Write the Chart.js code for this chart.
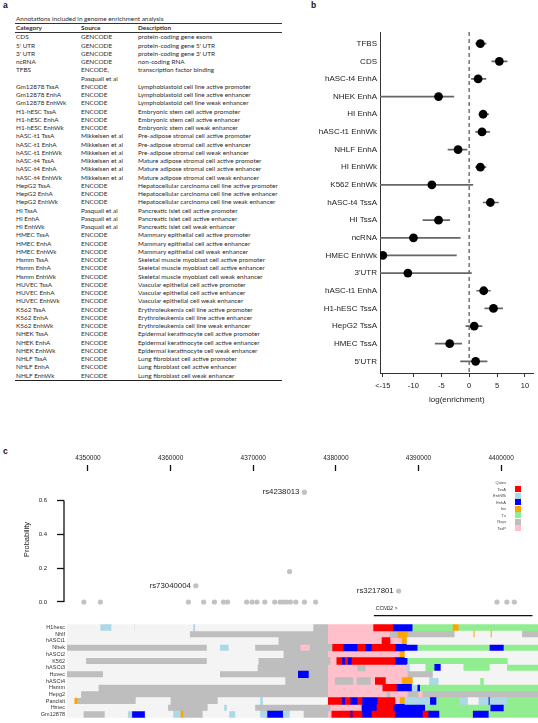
<!DOCTYPE html>
<html>
<head>
<meta charset="utf-8">
<script src="https://cdn.jsdelivr.net/npm/chart.js@4.4.1/dist/chart.umd.min.js"></script>
<style>
  html, body { margin: 0; padding: 0; background: #fff; }
  body { width: 538px; height: 723px; position: relative; overflow: hidden; font-family: "Liberation Sans", Arial, sans-serif; }
  canvas { position: absolute; }
  .panel-label { position: absolute; font-weight: bold; font-size: 8.5px; color: #111; }
  #tbl { position: absolute; left: 15px; top: 14px; width: 267px; font-family: Lato, "Open Sans", sans-serif; font-size: 6.4px; color: #2b2b2b; }
  #tbl .title { height: 9px; line-height: 9px; padding-left: 1px; border-bottom: 0.8px solid #333; }
  #tbl .grid { display: grid; grid-template-columns: 65px 57px auto; }
  #tbl .grid div { line-height: 8.25px; white-space: nowrap; padding-left: 1px; }
  #tbl .head { border-bottom: 0.8px solid #333; font-weight: bold; }
  #tbl .body { border-bottom: 1.2px solid #222; }
  #states { position: absolute; left: 470px; top: 479.5px; font-size: 4px; color: #444; }
  #states .row { height: 6.5px; display: flex; align-items: center; }
  #states .lab { width: 36px; text-align: right; }
  #states .sw { width: 6px; height: 6px; margin-left: 9px; }
</style>
</head>
<body>
<div class="panel-label" style="left:3px;top:0px;">a</div>
<div class="panel-label" style="left:311px;top:0px;">b</div>
<div class="panel-label" style="left:3px;top:446px;">c</div>

<div id="tbl">
  <div class="title">Annotations included in genome enrichment analysis</div>
  <div class="grid head"><div>Category</div><div>Source</div><div>Description</div></div>
  <div class="grid body" id="tblBody"></div>
</div>

<canvas id="chartB" width="268" height="410" style="left:270px;top:0px;"></canvas>
<canvas id="chartP" width="538" height="182" style="left:0px;top:440px;"></canvas>
<canvas id="chartH" width="538" height="104" style="left:0px;top:619px;"></canvas>
<div id="states"></div>

<script>
// ---------- panel a: annotation table ----------
var BASE_CATS = ['CDS', "5' UTR", "3' UTR", 'ncRNA', 'TFBS'];
var BASE_SRC = ['GENCODE', 'GENCODE', 'GENCODE', 'GENCODE', 'ENCODE,<br>Pasquali et al'];
var BASE_DESC = ['protein-coding gene exons', "protein-coding gene 5' UTR", "protein-coding gene 3' UTR",
  'non-coding RNA', 'transcription factor binding'];

var CELL_NAMES = ['Gm12878', 'H1-hESC', 'hASC-t1', 'hASC-t4', 'HepG2', 'HI', 'HMEC', 'Hsmm', 'HUVEC', 'K562', 'NHEK', 'NHLF'];
var CELL_SRC = ['ENCODE', 'ENCODE', 'Mikkelsen et al', 'Mikkelsen et al', 'ENCODE', 'Pasquali et al',
  'ENCODE', 'ENCODE', 'ENCODE', 'ENCODE', 'ENCODE', 'ENCODE'];
var CELL_DESC = ['Lymphoblastoid cell line', 'Embryonic stem cell', 'Pre-adipose stromal cell',
  'Mature adipose stromal cell', 'Hepatocellular carcinoma cell line', 'Pancreatic islet cell',
  'Mammary epithelial cell', 'Skeletal muscle myoblast cell', 'Vascular epithelial cell',
  'Erythroleukemia cell line', 'Epidermal keratinocyte cell', 'Lung fibroblast cell'];
var MARKS = ['TssA', 'EnhA', 'EnhWk'];
var MARK_DESC = ['active promoter', 'active enhancer', 'weak enhancer'];

function buildTable() {
    var html = '';
    BASE_CATS.forEach(function(c, i) {
        html += '<div>' + c + '</div><div>' + BASE_SRC[i] + '</div><div>' + BASE_DESC[i] + '</div>';
    });
    CELL_NAMES.forEach(function(cell, i) {
        MARKS.forEach(function(m, j) {
            html += '<div>' + cell + ' ' + m + '</div><div>' + CELL_SRC[i] + '</div><div>' +
                CELL_DESC[i] + ' ' + MARK_DESC[j] + '</div>';
        });
    });
    document.getElementById('tblBody').innerHTML = html;
}
buildTable();

// ---------- panel b: enrichment forest plot ----------
var B_LABELS = ['TFBS', 'CDS', 'hASC-t4 EnhA', 'NHEK EnhA', 'HI EnhA', 'hASC-t1 EnhWk', 'NHLF EnhA', 'HI EnhWk',
  'K562 EnhWk', 'hASC-t4 TssA', 'HI TssA', 'ncRNA', 'HMEC EnhWk', "3'UTR", 'hASC-t1 EnhA', 'H1-hESC TssA',
  'HepG2 TssA', 'HMEC TssA', "5'UTR"];
var B_EST = [2.0, 5.4, 1.6, -5.5, 2.5, 2.3, -2.0, 2.0, -6.7, 3.8, -5.5, -10.0, -15.5, -11.0, 2.6, 4.35, 0.9, -3.5, 1.15];
var B_LO = [1.15, 4.05, 0.4, -16, 1.75, 1.15, -3.8, 1.15, -16, 2.5, -8.3, -16, -16, -16, 1.35, 2.8, -0.6, -6.1, -1.55];
var B_HI = [3.05, 6.8, 3.0, -2.75, 3.5, 3.65, -0.4, 3.0, 0.65, 5.25, -3.5, -1.6, -2.3, 0.4, 3.8, 6.0, 2.3, -1.35, 3.2];
var B_TICKS = [-15.5, -10, -5, 0, 5, 10];
var B_TICK_TEXT = ['<-15', '-10', '-5', '0', '5', '10'];

var zeroLine = {
    id: 'zeroLine',
    beforeDatasetsDraw: function(chart) {
        var x = chart.scales.x.getPixelForValue(0);
        var a = chart.chartArea, ctx = chart.ctx;
        ctx.save();
        ctx.strokeStyle = '#7a7a7a';
        ctx.lineWidth = 1.6;
        ctx.setLineDash([4, 3]);
        ctx.beginPath();
        ctx.moveTo(x, a.top);
        ctx.lineTo(x, a.bottom);
        ctx.stroke();
        ctx.restore();
    }
};

new Chart(document.getElementById('chartB'), {
    type: 'bar',
    data: {
        datasets: [
            {
                type: 'bar',
                data: B_LO.map(function(lo, i) { return { y: i, x: [lo, B_HI[i]] }; }),
                backgroundColor: '#666',
                barThickness: 1,
                borderWidth: 0,
                order: 2
            },
            {
                type: 'scatter',
                data: B_EST.map(function(v, i) { return { x: v, y: i }; }),
                pointRadius: 4.4,
                backgroundColor: '#000',
                borderWidth: 0,
                order: 1
            }
        ]
    },
    options: {
        indexAxis: 'y',
        responsive: false,
        animation: false,
        layout: { padding: { top: 32, left: 0, right: 0, bottom: 0 } },
        plugins: { legend: { display: false }, tooltip: { enabled: false } },
        scales: {
            x: {
                type: 'linear', min: -16, max: 11.55, offset: false,
                afterBuildTicks: function(s) { s.ticks = B_TICKS.map(function(v) { return { value: v }; }); },
                afterFit: function(s) { s.height = 37; },
                ticks: {
                    autoSkip: false, maxRotation: 0, padding: 4, color: '#222',
                    font: { family: '"Liberation Sans", Arial', size: 7.5 },
                    callback: function(v, i) { return B_TICK_TEXT[i]; }
                },
                grid: { drawOnChartArea: false, tickLength: 4, tickColor: '#333', offset: false },
                border: { color: '#333', width: 1 },
                title: {
                    display: true, text: 'log(enrichment)', color: '#222',
                    font: { family: '"Liberation Sans", Arial', size: 8 },
                    padding: { top: 0, bottom: 5 }
                }
            },
            y: {
                type: 'linear', reverse: true, min: -0.66, max: 18.66, offset: false,
                afterBuildTicks: function(s) { s.ticks = B_LABELS.map(function(l, i) { return { value: i }; }); },
                afterFit: function(s) { s.width = 110; },
                ticks: {
                    autoSkip: false, padding: 3, color: '#222',
                    font: { family: '"Liberation Sans", Arial', size: 8 },
                    callback: function(v) { return B_LABELS[v]; }
                },
                grid: { display: false, drawTicks: false, offset: false },
                border: { color: '#333', width: 1 }
            }
        }
    },
    plugins: [zeroLine]
});

// ---------- panel c: fine-mapping probabilities ----------
var X_TICKS = [4350, 4360, 4370, 4380, 4390, 4400];   // kb
var P_TICKS = [0, 0.2, 0.4, 0.6];
var SNP_POS = [4376.2, 4374.4, 4363.05, 4387.6, 4349.5, 4351.5, 4362.15, 4364.0, 4365.3, 4366.4, 4366.9,
  4369.2, 4369.85, 4370.45, 4371.4, 4372.6, 4373.25, 4373.65, 4374.05, 4374.5, 4375.15, 4376.2, 4377.55,
  4399.5, 4400.7, 4401.6];
var SNP_PROB = [0.65, 0.18, 0.096, 0.065, 0, 0, 0, 0, 0, 0, 0, 0, 0, 0, 0, 0, 0, 0, 0, 0, 0, 0, 0, 0, 0, 0];
var SNP_NAME = ['rs4238013', '', 'rs73040004', 'rs3217801'];

// CCND2 gene model (kb)
var GENE_NAME = 'CCND2 >';
var GENE_SPAN = [4384.6, 4403.8];
var EXON_BOX = [4384.6];
var EXON_TICKS = [4386.6, 4389.4, 4399.8];
var GENE_Y = -0.081;

var pAxisLine = {
    id: 'pAxisLine',
    afterDraw: function(chart) {
        var y = chart.scales.y, ctx = chart.ctx, x = chart.chartArea.left;
        ctx.save();
        ctx.strokeStyle = '#111';
        ctx.lineWidth = 1.3;
        ctx.beginPath();
        ctx.moveTo(x, y.getPixelForValue(P_TICKS[0]));
        ctx.lineTo(x, y.getPixelForValue(P_TICKS[P_TICKS.length - 1]));
        ctx.stroke();
        ctx.restore();
    }
};

var snpNames = {
    id: 'snpNames',
    afterDatasetsDraw: function(chart) {
        var ctx = chart.ctx;
        var pts = chart.getDatasetMeta(0).data;
        ctx.save();
        ctx.font = '7.8px "Liberation Sans", Arial';
        ctx.fillStyle = '#222';
        ctx.textAlign = 'right';
        ctx.textBaseline = 'middle';
        pts.forEach(function(pt, i) {
            if (SNP_NAME[i]) ctx.fillText(SNP_NAME[i], pt.x - 5, pt.y);
        });
        // gene label above the gene line
        var gx = chart.scales.x.getPixelForValue(GENE_SPAN[0]);
        var gy = chart.scales.y.getPixelForValue(GENE_Y);
        ctx.font = 'italic 5px "Liberation Sans", Arial';
        ctx.textAlign = 'left';
        ctx.fillText(GENE_NAME, gx + 2, gy - 7);
        ctx.restore();
    }
};

new Chart(document.getElementById('chartP'), {
    type: 'scatter',
    data: {
        datasets: [
            {
                data: SNP_POS.map(function(p, i) { return { x: p, y: SNP_PROB[i] }; }),
                pointRadius: 2.6,
                backgroundColor: '#c2c2c2',
                borderWidth: 0,
                clip: false
            },
            {
                type: 'line',
                data: GENE_SPAN.map(function(p) { return { x: p, y: GENE_Y }; }),
                borderColor: '#111',
                borderWidth: 1.2,
                pointRadius: 0,
                clip: false
            },
            {
                data: EXON_BOX.map(function(p) { return { x: p, y: GENE_Y }; }),
                pointStyle: 'rect',
                pointRadius: 4.6,
                backgroundColor: '#000',
                borderWidth: 0,
                clip: false
            },
            {
                data: EXON_TICKS.map(function(p) { return { x: p, y: GENE_Y }; }),
                pointStyle: 'line',
                rotation: 90,
                pointRadius: 3.3,
                borderColor: '#000',
                borderWidth: 2,
                clip: false
            }
        ]
    },
    options: {
        responsive: false,
        animation: false,
        layout: { padding: { top: 0, left: 0, right: 0, bottom: 14 } },
        plugins: { legend: { display: false }, tooltip: { enabled: false } },
        scales: {
            x: {
                type: 'linear', position: 'top', min: 4347.096, max: 4403.74,
                afterBuildTicks: function(s) { s.ticks = X_TICKS.map(function(v) { return { value: v }; }); },
                afterFit: function(s) { s.height = 31; },
                ticks: {
                    autoSkip: false, maxRotation: 0, padding: 3, color: '#222',
                    font: { family: '"Liberation Sans", Arial', size: 6.5 },
                    callback: function(v) { return String(Math.round(v * 1000)); }
                },
                grid: { drawOnChartArea: false, tickLength: 6, tickWidth: 1.3, tickColor: '#111' },
                border: { display: false }
            },
            y: {
                type: 'linear', min: -0.0355, max: 0.775,
                afterBuildTicks: function(s) { s.ticks = P_TICKS.map(function(v) { return { value: v }; }); },
                afterFit: function(s) { s.width = 64; },
                ticks: {
                    padding: 10, color: '#222',
                    font: { family: '"Liberation Sans", Arial', size: 6 },
                    callback: function(v) { return v.toFixed(1); }
                },
                grid: { drawOnChartArea: false, tickLength: 7, tickWidth: 1.3, tickColor: '#111' },
                border: { display: false },
                title: {
                    display: true, text: 'Probability', color: '#222',
                    font: { family: '"Liberation Sans", Arial', size: 7.5 },
                    padding: { top: 22, bottom: 0 }
                }
            }
        }
    },
    plugins: [pAxisLine, snpNames]
});

// ---------- panel c: chromatin state tracks ----------
var Q = 'Quies', TA = 'TssA', EW = 'EnhWk', EA = 'EnhA', I = 'Ins', T = 'Tx', R = 'Repr', P = 'TssP';
var STATE_NAMES = [Q, TA, EW, EA, I, T, R, P];
var STATE_COLORS = ['#f4f4f4', '#ff0000', '#add8e6', '#0000ff', '#ffa500', '#90ee90', '#bebebe', '#ffc0cb'];
var TRACK_START = 4347.455;
var END = 4403.8;

// each track: runs of [end kb, state], each run starting where the previous one ended
var TR_H1HESC = [[4351.4, Q], [4352.8, EW], [4355.5, Q], [4355.6, EW], [4362.5, Q], [4362.8, EW], [4376.85, Q],
  [4378.6, R], [4384.1, P], [4386.4, TA], [4388.7, EA], [4393.6, T], [4394.2, I], [END, T]];
var TR_NHLF = [[4362.1, Q], [4378.6, R], [4386.05, P], [4387.0, R], [4388.1, I], [4393.8, R], [4396.0, Q],
  [4396.2, I], [4398.05, Q], [4398.25, I], [4401.8, Q], [END, R]];
var TR_HASCT1 = [[4372.7, Q], [4378.6, R], [4385.1, P], [4386.05, TA], [4387.5, P], [4388.1, I], [END, Q]];
var TR_NHEK = [[4364.2, R], [4365.7, Q], [4366.8, EW], [4369.9, Q], [4375.3, R], [4376.5, P], [4379.2, R],
  [4380.45, TA], [4382.2, EA], [4383.1, TA], [4383.9, EA], [4386.65, TA], [4389.3, EA], [4398.0, T],
  [4399.6, EA], [END, T]];
var TR_HASCT2 = [[4373.3, Q], [4378.6, R], [4387.25, P], [4387.85, I], [END, Q]];
var TR_K562 = [[4349.7, Q], [4364.2, R], [4370.3, Q], [4378.9, R], [4379.7, P], [4380.3, TA], [4380.7, EA],
  [4381.0, TA], [4381.5, EA], [4386.65, TA], [4388.1, EA], [4400.15, T], [END, Q]];
var TR_HASCT3 = [[4370.2, Q], [4378.6, R], [4382.2, P], [4383.1, R], [4388.1, P], [4388.45, EW], [4390.25, Q],
  [4391.4, T], [4392.15, EA], [4394.8, Q], [4398.0, T], [4400.0, Q], [END, T]];
var TR_HUVEC = [[4351.8, R], [4365.7, Q], [4375.1, R], [4376.3, EA], [4378.6, R], [4388.2, P], [4391.2, R], [END, Q]];
var TR_HASCT4 = [[4373.5, Q], [4378.6, R], [4379.5, P], [4381.6, R], [4382.1, P], [4383.7, R], [4384.3, P],
  [4385.5, TA], [4387.5, P], [4388.8, I], [4390.7, Q], [4391.9, EW], [4396.8, Q], [4397.3, T], [END, Q]];
var TR_HSMM = [[4351.2, Q], [4378.6, R], [4385.2, P], [4386.8, TA], [4388.7, EA], [4389.3, EW], [4389.6, EA], [END, T]];
var TR_HEPG2 = [[4349.1, Q], [4378.6, R], [4385.7, P], [4386.05, R], [4388.2, P], [4389.4, R], [4390.0, P], [END, R]];
var TR_PANCISLT = [[4348.3, Q], [4348.65, I], [4355.7, R], [4359.8, Q], [4365.5, R], [4370.5, Q], [4370.9, EW],
  [4378.6, Q], [4380.3, TA], [4380.7, EA], [4381.3, TA], [4382.2, EA], [4382.7, TA], [4384.6, EA], [4386.65, TA],
  [4387.25, P], [4387.85, I], [4390.8, EW], [4391.55, EA], [4394.4, T], [4395.4, EW], [4396.6, Q], [4397.8, EW],
  [4398.0, EA], [4400.0, EW], [END, T]];
var TR_HMEC = [[4359.5, Q], [4364.3, R], [4366.2, Q], [4366.6, EW], [4369.9, Q], [4378.9, R], [4382.7, P],
  [4384.5, EA], [4386.4, TA], [4390.2, EA], [4398.1, T], [4399.6, EA], [END, T]];
var TR_GM12878 = [[4349.4, Q], [4352.0, R], [4354.7, Q], [4355.2, EW], [4356.8, EA], [4360.1, Q], [4361.0, EW],
  [4361.3, I], [4363.7, R], [4366.8, Q], [4367.6, EW], [4370.5, Q], [4371.35, EW], [4373.3, EA], [4374.1, EW],
  [4375.7, Q], [4378.6, R], [4379.1, P], [4381.3, TA], [4381.6, EA], [4382.7, TA], [4383.9, EA], [4386.65, TA],
  [4390.0, EA], [4390.6, TA], [4391.9, EA], [4396.0, T], [4397.8, EA], [END, T]];

var ROW_NAMES = ['H1hesc', 'Nhlf', 'hASCt1', 'Nhek', 'hASCt2', 'K562', 'hASCt3', 'Huvec', 'hASCt4', 'Hsmm',
  'Hepg2', 'Panclslt', 'Hmec', 'Gm12878'];
var ROW_TRACKS = [TR_H1HESC, TR_NHLF, TR_HASCT1, TR_NHEK, TR_HASCT2, TR_K562, TR_HASCT3, TR_HUVEC, TR_HASCT4,
  TR_HSMM, TR_HEPG2, TR_PANCISLT, TR_HMEC, TR_GM12878];

/**
 * Turn the run lists into one floating-bar dataset per chromatin state
 */
function buildStateDatasets() {
    return STATE_NAMES.map(function(state, k) {
        var segs = [];
        ROW_TRACKS.forEach(function(track, r) {
            var start = TRACK_START;
            track.forEach(function(run) {
                if (run[1] === state) segs.push({ y: ROW_NAMES[r], x: [start, run[0]] });
                start = run[0];
            });
        });
        return {
            label: state,
            data: segs,
            backgroundColor: STATE_COLORS[k],
            borderWidth: 0,
            grouped: false,
            barPercentage: 1,
            categoryPercentage: 1
        };
    });
}

new Chart(document.getElementById('chartH'), {
    type: 'bar',
    data: { labels: ROW_NAMES, datasets: buildStateDatasets() },
    options: {
        indexAxis: 'y',
        responsive: false,
        animation: false,
        layout: { padding: { top: 0, left: 0, right: 0, bottom: 3 } },
        plugins: { legend: { display: false }, tooltip: { enabled: false } },
        scales: {
            x: { type: 'linear', min: TRACK_START, max: 4403.74, display: false },
            y: {
                type: 'category',
                afterFit: function(s) { s.width = 67; },
                ticks: {
                    autoSkip: false, padding: 2, color: '#333',
                    font: { family: '"Liberation Sans", Arial', size: 5.5 }
                },
                grid: { display: false, drawTicks: false },
                border: { display: false }
            }
        }
    }
});

// state colour key
(function buildStateKey() {
    var html = '';
    STATE_NAMES.forEach(function(s, i) {
        html += '<div class="row"><span class="lab">' + s + '</span><span class="sw" style="background:' +
            STATE_COLORS[i] + '"></span></div>';
    });
    document.getElementById('states').innerHTML = html;
})();
</script>
</body>
</html>
